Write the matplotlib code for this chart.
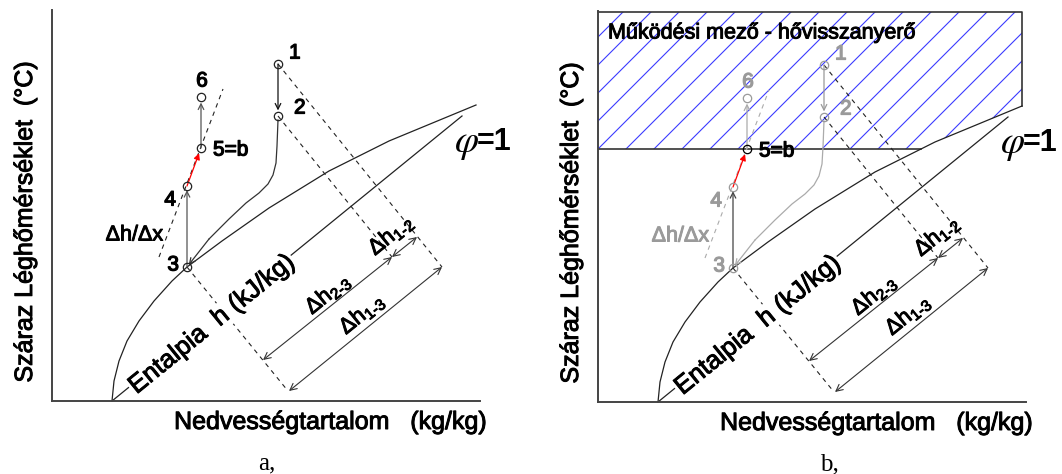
import matplotlib
matplotlib.use("Agg")
import matplotlib.pyplot as plt
import matplotlib.patheffects as pe
import numpy as np
from matplotlib.patches import Polygon

plt.rcParams['font.family'] = ['Liberation Sans', 'DejaVu Sans']
plt.rcParams['mathtext.fontset'] = 'custom'
plt.rcParams['mathtext.rm'] = 'Liberation Sans'
plt.rcParams['mathtext.it'] = 'Liberation Sans:italic'
plt.rcParams['mathtext.bf'] = 'Liberation Sans:bold'

# ── Diagram data (schematic units, origin = axis corner) ─────────────────────
POINT_NAMES = ["1", "2", "3", "4", "5=b", "6"]
POINT_X = [226, 226, 135, 135, 149, 149]
POINT_Y = [337, 285, 134, 215, 253, 304]
LABEL_X = [237, 242, 121, 118, 161, 150]
LABEL_Y = [348, 293, 136, 201, 251, 320]

# saturation curve (phi = 1)
SAT_X = [60, 62, 67, 75, 87, 102, 120, 135, 170, 217, 277, 337, 424]
SAT_Y = [0, 20, 40, 60, 80, 100, 120, 134, 160, 193, 230, 260, 296]

# enthalpy reference line
ENTH_X = [60, 410]
ENTH_Y = [0, 285]

# process 2 -> 3 (cooling / dehumidifying)
PROC23_X = [226, 225, 224, 221, 216, 207, 194, 177, 157, 137]
PROC23_Y = [281, 255, 238, 226, 217, 208, 198, 182, 162, 137]

# dh/dx slope line
SLOPE_X = [107, 171]
SLOPE_Y = [144, 312]

# dashed iso-enthalpy lines from points 1, 2, 3
ISO_FROM = [0, 1, 2]
ISO_END_X = [390, 340, 236]
ISO_END_Y = [134, 144, 10]

# dimension arrows
DIM_LABELS = [r"Δh$_{\text{2-3}}$", r"Δh$_{\text{1-2}}$", r"Δh$_{\text{1-3}}$"]
DIM_X0 = [211, 340, 237]
DIM_Y0 = [41, 144, 10]
DIM_X1 = [340, 365, 390]
DIM_Y1 = [144, 164, 134]
DIM_TX = [276, 339, 310]
DIM_TY = [107, 166, 87]

ZONE_Y = 253          # heat recovery operating limit (through point 5)
ANGLE = np.degrees(np.arctan2(ENTH_Y[1] - ENTH_Y[0], ENTH_X[1] - ENTH_X[0]))

fig = plt.figure(figsize=(10.62, 4.74), dpi=100)
W, H = 1062, 474


def heavy(color="black", w=0.7):
    return [pe.withStroke(linewidth=w, foreground=color)]


def make_ax(x0, y0):
    ax = fig.add_axes([x0 / W, (H - y0) / H, 428 / W, 391 / H])
    ax.set_xlim(0, 428)
    ax.set_ylim(0, 391)
    ax.set_xticks([])
    ax.set_yticks([])
    for s in ("top", "right"):
        ax.spines[s].set_visible(False)
    for s in ("left", "bottom"):
        ax.spines[s].set_color("#444444")
        ax.spines[s].set_linewidth(1.4)
    ax.patch.set_alpha(0)
    return ax


def arrow(ax, x0, y0, x1, y1, color, style="->", lw=0.9, sb=3, ms=10):
    ax.annotate("", xy=(x1, y1), xytext=(x0, y0), annotation_clip=False,
                arrowprops=dict(arrowstyle=style, color=color, lw=lw,
                                shrinkA=0, shrinkB=sb, mutation_scale=ms))


def draw_panel(ax, zone, caption, cap_x):
    if zone:
        lab_c, circ_c = "#9a9a9a", "#9a9a9a"
        c12, c23, c34, c56, cslope = "#9a9a9a", "#ababab", "#444444", "#ababab", "#ababab"
    else:
        lab_c, circ_c = "black", "#222222"
        c12, c23, c34, c56, cslope = "#111111", "#333333", "#555555", "#555555", "#222222"

    if zone:
        # operating zone of the heat recovery unit
        xs = np.interp(ZONE_Y, SAT_Y, SAT_X)
        upper = [(x, y) for x, y in zip(SAT_X, SAT_Y) if y > ZONE_Y]
        verts = [(0, ZONE_Y), (xs, ZONE_Y)] + upper + [(SAT_X[-1], 390), (0, 390)]
        poly = Polygon(verts, closed=True, facecolor="none", edgecolor="none")
        ax.add_patch(poly)
        for c in np.arange(-365, 450, 28):
            ln, = ax.plot([0, 450], [-c, 450 - c], color="#3b3bff", lw=0.8, zorder=1)
            ln.set_clip_path(poly)
        ax.plot([0, xs], [ZONE_Y, ZONE_Y], color="#333333", lw=1.2, zorder=2)
        ax.plot([0, SAT_X[-1], SAT_X[-1]], [390, 390, SAT_Y[-1]],
                color="#333333", lw=1.2, clip_on=False, zorder=2)
        ax.text(10, 369, "Működési mező - hővisszanyerő", fontsize=15.5,
                ha="left", va="center", zorder=5, path_effects=heavy())

    # saturation curve and enthalpy line
    ax.plot(SAT_X, SAT_Y, color="#222222", lw=0.9, clip_on=False)
    ax.plot(ENTH_X, ENTH_Y, color="#222222", lw=0.9)
    ax.text(160, 77, "Entalpia  h (kJ/kg)", fontsize=18.5, rotation=ANGLE,
            rotation_mode="anchor", ha="center", va="center", zorder=4,
            path_effects=heavy(),
            bbox=dict(boxstyle="square,pad=0.05", facecolor="white", edgecolor="none"))

    # iso-enthalpy dashed lines
    for i, ex, ey in zip(ISO_FROM, ISO_END_X, ISO_END_Y):
        ax.plot([POINT_X[i], ex], [POINT_Y[i], ey], color="#222222", lw=0.8,
                ls=(0, (4, 4)), zorder=3)

    # dimension arrows
    for lab, x0, y0, x1, y1, tx, ty in zip(DIM_LABELS, DIM_X0, DIM_Y0, DIM_X1,
                                           DIM_Y1, DIM_TX, DIM_TY):
        arrow(ax, x0, y0, x1, y1, "#333333", style="<->", lw=0.8, sb=0, ms=12)
        ax.text(tx, ty, lab, fontsize=16, rotation=ANGLE, rotation_mode="anchor",
                ha="center", va="center", zorder=4, path_effects=heavy())

    # slope line dh/dx
    ax.plot(SLOPE_X, SLOPE_Y, color=cslope, lw=0.8, ls=(0, (4, 4)), zorder=3)
    ax.text(111, 166, "Δh/Δx", fontsize=15.5, color=lab_c, ha="right", va="center",
            path_effects=heavy(lab_c))

    # processes
    arrow(ax, POINT_X[0], POINT_Y[0], POINT_X[1], POINT_Y[1], c12, sb=4)
    ax.plot(PROC23_X[:-1], PROC23_Y[:-1], color=c23, lw=0.9)
    arrow(ax, PROC23_X[-2], PROC23_Y[-2], POINT_X[2], POINT_Y[2], c23, sb=2)
    arrow(ax, POINT_X[2], POINT_Y[2], POINT_X[3], POINT_Y[3], c34, sb=3)
    arrow(ax, POINT_X[3], POINT_Y[3], POINT_X[4], POINT_Y[4], "red", style="-|>",
          lw=0.9, sb=4, ms=9)
    arrow(ax, POINT_X[4], POINT_Y[4], POINT_X[5], POINT_Y[5], c56, sb=4)

    for name, px, py, lx, ly in zip(POINT_NAMES, POINT_X, POINT_Y, LABEL_X, LABEL_Y):
        cc = circ_c
        tc = lab_c
        if zone and name == "5=b":
            cc, tc = "black", "black"
        ax.plot(px, py, "o", ms=6, mfc="none", mec=cc, mew=0.9, zorder=6)
        ha = "left" if name in ("1", "2", "5=b") else ("center" if name == "6" else "right")
        if name in ("3", "4"):
            lx += 6
        ax.text(lx, ly, name, fontsize=15, color=tc, ha=ha, va="center", zorder=6,
                path_effects=heavy(tc, 0.9))

    # phi = 1
    ax.text(414, 257, r"$\varphi$", math_fontfamily="stix", fontsize=28,
            ha="center", va="center", clip_on=False)
    ax.text(425, 259, "=1", fontsize=22, fontweight="bold", ha="left",
            va="center", clip_on=False)

    # axis labels and caption
    ax.text(-27, 179, "Száraz Léghőmérséklet  (°C)", fontsize=18, rotation=90,
            ha="center", va="center", path_effects=heavy())
    ax.text(278, -21, "Nedvességtartalom   (kg/kg)", fontsize=18,
            ha="center", va="center", path_effects=heavy())
    ax.text(cap_x, -62, caption, fontsize=18, family="Liberation Serif",
            ha="center", va="center")


ax_a = make_ax(52, 401)
draw_panel(ax_a, False, "a,", 215)
ax_b = make_ax(598, 402)
draw_panel(ax_b, True, "b,", 231)

fig.savefig("out.png", dpi=100, facecolor="white")
